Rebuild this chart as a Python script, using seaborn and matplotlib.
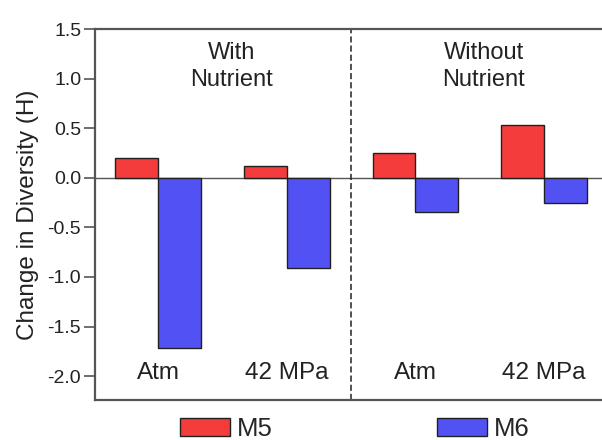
import matplotlib
matplotlib.use('Agg')
import matplotlib.pyplot as plt
import seaborn as sns
import pandas as pd

# Data
groups = ['With Atm', 'With 42 MPa', 'Without Atm', 'Without 42 MPa']
pressure_labels = ['Atm', '42 MPa', 'Atm', '42 MPa']
m5 = [0.20, 0.12, 0.25, 0.53]
m6 = [-1.72, -0.91, -0.34, -0.25]
nutrient_labels = ['With\nNutrient', 'Without\nNutrient']

df = pd.DataFrame({
    'group': groups * 2,
    'value': m5 + m6,
    'strain': ['M5'] * 4 + ['M6'] * 4,
})

sns.set_style('white')
plt.rcParams['font.family'] = ['Liberation Sans', 'DejaVu Sans']

fig = plt.figure(figsize=(6.02, 4.4), dpi=100)
ax = fig.add_axes([0.158, 0.091, 0.842, 0.843])

palette = {'M5': '#f43c3c', 'M6': '#5252f4'}
sns.barplot(data=df, x='group', y='value', hue='strain', order=groups,
            palette=palette, width=0.667, edgecolor='#202020', linewidth=1.0,
            saturation=1, ax=ax)

ax.set_ylim(-2.24, 1.5)
ax.set_xlim(-0.49, 3.45)
ax.set_yticks([-2.0, -1.5, -1.0, -0.5, 0.0, 0.5, 1.0, 1.5])
ax.set_yticklabels(['-2.0', '-1.5', '-1.0', '-0.5', '0.0', '0.5', '1.0', '1.5'])
ax.set_xticks([])
ax.set_xlabel('')
ax.set_ylabel('Change in Diversity (H)', fontsize=17.5, color='#222222', labelpad=6)
ax.tick_params(axis='y', left=True, length=8, width=1.2, color='#555555',
               labelsize=14, labelcolor='#222222', pad=2)

for side in ['left', 'top', 'bottom']:
    ax.spines[side].set_color('#555555')
    ax.spines[side].set_linewidth(1.6)
ax.spines['right'].set_visible(False)

ax.axhline(0, color='#555555', linewidth=1, zorder=0)
ax.axvline(1.5, color='#222222', linewidth=1.1, linestyle=(0, (4, 2)))

for i, lab in enumerate(pressure_labels):
    ax.text(i, -1.97, lab, ha='center', va='center', fontsize=17.5, color='#222222')

ax.text(0.57, 1.12, nutrient_labels[0], ha='center', va='center', fontsize=17,
        color='#222222', linespacing=1.3)
ax.text(2.53, 1.12, nutrient_labels[1], ha='center', va='center', fontsize=17,
        color='#222222', linespacing=1.3)

# legend sits off-centre because the original axes run past the right edge
handles, labels = ax.get_legend_handles_labels()
ax.get_legend().remove()
fig.legend(handles, labels, loc='center', bbox_to_anchor=(0.589, 0.025), ncol=2,
           frameon=False, fontsize=18.5, handlelength=1.96, handleheight=0.72,
           handletextpad=0.24, columnspacing=6.4, borderaxespad=0, borderpad=0)

fig.savefig('out.png', dpi=100)
